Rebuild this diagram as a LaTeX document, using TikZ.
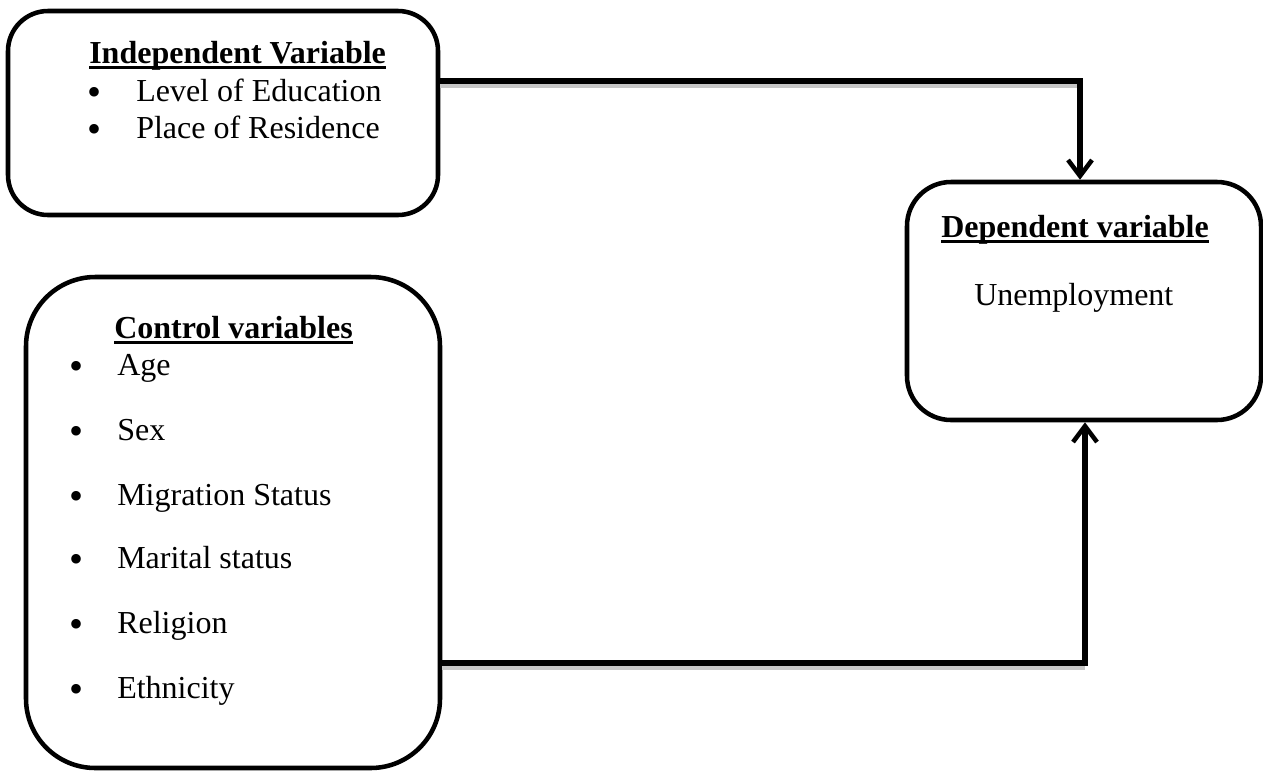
\documentclass[tikz,border=0pt]{standalone}
\usepackage{fontspec}
\setmainfont{Liberation Serif}
\usetikzlibrary{arrows.meta}
\newcommand\myul[1]{\setbox0\hbox{#1}\rlap{\rule[-4.2pt]{\wd0}{1.6pt}}\box0}
\begin{document}
\begin{tikzpicture}[x=0.75pt,y=-0.75pt,
  box/.style={draw=black,line width=3.4pt,fill=white,inner sep=0pt},
  txt/.style={anchor=base west,inner sep=0pt,font=\fontsize{24}{28}\selectfont},
  bul/.style={anchor=base,inner sep=0pt,yshift=-3.5pt,font=\fontsize{30}{30}\selectfont},
  ttl/.style={txt,font=\fontsize{24}{28}\selectfont\bfseries},
  conn/.style={line width=3.8pt,line join=miter},
  arr/.style={conn,-{Straight Barb[length=12pt,width=18pt,line width=3.4pt]}},
  shade/.style={line width=4pt,gray!45}]
\useasboundingbox (0,0) rectangle (1263,772);
% boxes
\node[box,rounded corners=30pt,minimum width=322.5pt,minimum height=153pt] (iv) at (223,113) {};
\node[box,rounded corners=52pt,minimum width=310.5pt,minimum height=368.25pt] (cv) at (233,522.5) {};
\node[box,rounded corners=33pt,minimum width=265.5pt,minimum height=178.5pt] (dv) at (1084,301) {};
% routing coordinates
\coordinate (p1) at (1080,81);
\coordinate (p2) at (1085,663);
% shadows
\draw[shade] ([yshift=-3.5pt]iv.east |- p1) -- ([yshift=-3.5pt]p1);
\draw[shade] ([yshift=-3.5pt]cv.east |- p2) -- ([yshift=-3.5pt]p2);
% connectors
\draw[arr] (iv.east |- p1) -| (dv.north -| p1);
\draw[arr] (cv.east |- p2) -| (dv.south -| p2);
% independent variable text
\node[ttl] (ivt) at (89,63) {\myul{Independent Variable}};
\node[bul] (ivb1) at (95,101) {•};
\node[txt] (iv1) at (136,101) {Level of Education};
\node[bul] (ivb2) at (95,138) {•};
\node[txt] (iv2) at (136,138) {Place of Residence};
% control variables text
\node[ttl] (cvt) at (114,338) {\myul{Control variables}};
\foreach \y/\t [count=\i] in {375/Age,440/Sex,505/Migration Status,568/Marital status,633/Religion,698/Ethnicity}{
  \node[bul] (cvb\i) at (77,\y) {•};
  \node[txt] (cv\i) at (117,\y) {\t};
}
% dependent variable text
\node[ttl] (dvt) at (941,237) {\myul{Dependent variable}};
\node[txt] (dv1) at (974,305) {Unemployment};
\end{tikzpicture}
\end{document}
